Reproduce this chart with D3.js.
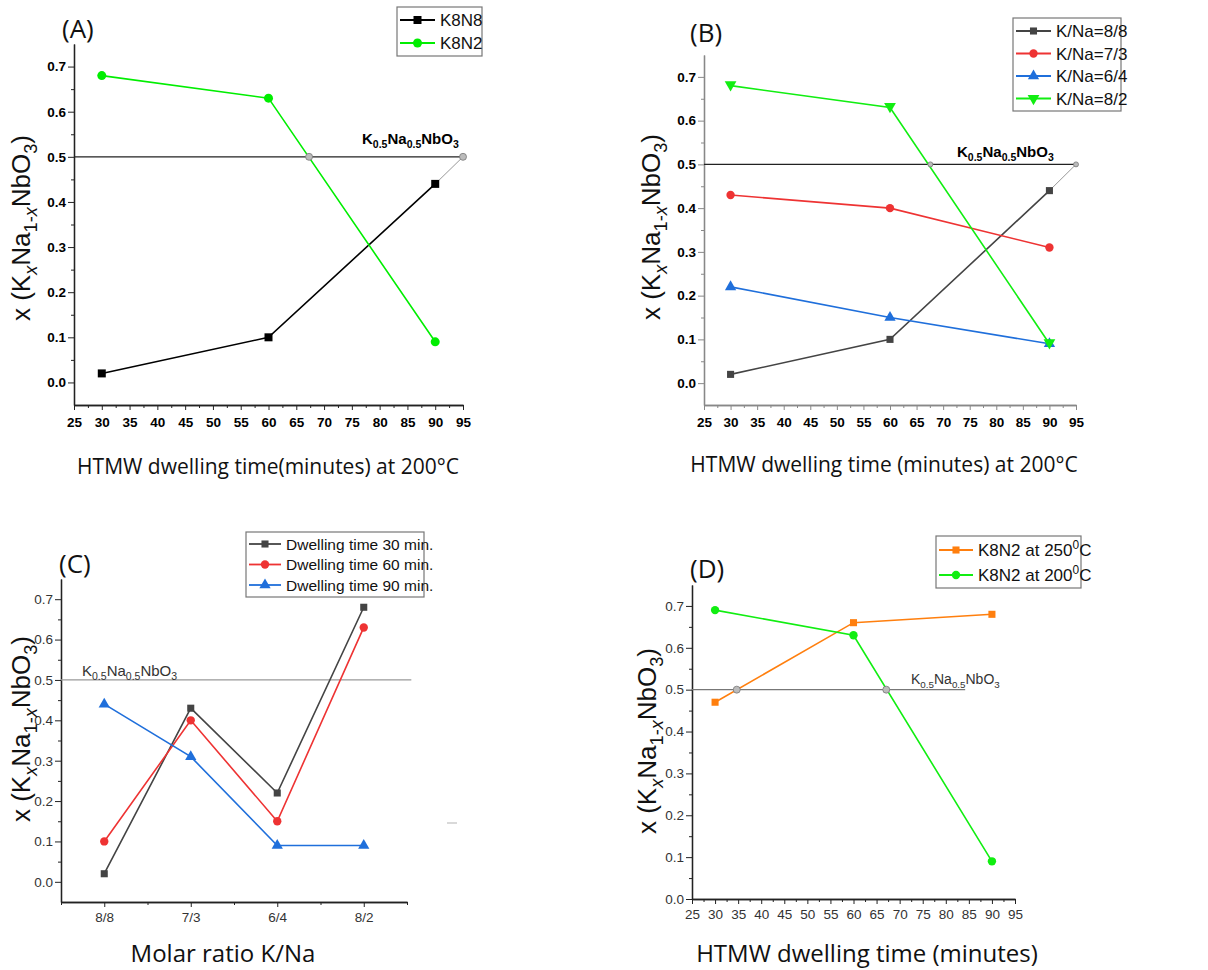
<!DOCTYPE html>
<html>
<head>
<meta charset="utf-8">
<script src="https://cdn.jsdelivr.net/npm/d3@7"></script>
<style>
  body { margin: 0; background: #fff; }
  svg { display: block; }
</style>
</head>
<body>
<div id="chart"></div>
<script>
// Data
const timesA = [30, 60, 90]
const k8n8A = [0.02, 0.10, 0.44]
const k8n2A = [0.68, 0.63, 0.09]

const timesB = [30, 60, 90]
const ratio88B = [0.02, 0.10, 0.44]
const ratio73B = [0.43, 0.40, 0.31]
const ratio64B = [0.22, 0.15, 0.09]
const ratio82B = [0.68, 0.63, 0.09]

const ratiosC = ['8/8', '7/3', '6/4', '8/2']
const dwell30C = [0.02, 0.43, 0.22, 0.68]
const dwell60C = [0.10, 0.40, 0.15, 0.63]
const dwell90C = [0.44, 0.31, 0.09, 0.09]

const timesD = [30, 60, 90]
const k8n2at250D = [0.47, 0.66, 0.68]
const k8n2at200D = [0.69, 0.63, 0.09]

// where the 0.5 line is crossed (x values)
const crossA = [67.3, 95]
const crossB = [67.6, 95]
const crossD = [34.7, 67.1]

const timeTicks = [25, 30, 35, 40, 45, 50, 55, 60, 65, 70, 75, 80, 85, 90, 95]
const yTicks = [0.0, 0.1, 0.2, 0.3, 0.4, 0.5, 0.6, 0.7]

const svg = d3.select('#chart')
  .append('svg')
  .attr('width', 1208)
  .attr('height', 970)

const sym = {
  square: d3.symbol().type(d3.symbolSquare),
  circle: d3.symbol().type(d3.symbolCircle),
  tri: d3.symbol().type(d3.symbolTriangle)
}

// text with sub / italic parts
function rich(sel, parts, size) {
  let shift = 0
  parts.forEach(p => {
    const ts = sel.append('tspan').text(p.t)
    const want = p.sub ? size * 0.28 : p.sup ? -size * 0.4 : 0
    ts.attr('dy', want - shift)
    shift = want
    if (p.sub || p.sup) ts.attr('font-size', size * 0.7)
    if (p.it) ts.attr('font-style', 'italic')
  })
  return sel
}

const kLabel = [{t: 'K'}, {t: '0.5', sub: true}, {t: 'Na'}, {t: '0.5', sub: true}, {t: 'NbO'}, {t: '3', sub: true}]
const yTitle = [{t: 'x (K'}, {t: 'x', sub: true, it: true}, {t: 'Na'}, {t: '1-', sub: true}, {t: 'x', sub: true, it: true}, {t: 'NbO'}, {t: '3', sub: true}, {t: ')'}]

function panel(o) {
  const g = svg.append('g')
  const xScale = d3.scaleLinear().domain(o.xDomain).range([o.left, o.right])
  const yScale = d3.scaleLinear().domain(o.yDomain).range([o.bottom, o.top])

  // axes
  const yAx = g.append('g').attr('transform', `translate(${o.left},0)`)
    .call(d3.axisLeft(yScale).tickValues(yTicks).tickFormat(d3.format('.1f')).tickSize(6).tickSizeOuter(0))
  g.append('g').attr('transform', `translate(${o.left},0)`)
    .call(d3.axisLeft(yScale).tickValues(d3.range(0.05, 0.75, 0.1)).tickFormat('').tickSize(3).tickSizeOuter(0))
  const xAx = g.append('g').attr('transform', `translate(0,${o.bottom})`)
    .call(d3.axisBottom(xScale).tickValues(o.xTicks).tickFormat(o.xFormat || d3.format('d')).tickSize(5).tickSizeOuter(0))
  g.append('g').attr('transform', `translate(0,${o.bottom})`)
    .call(d3.axisBottom(xScale).tickValues(o.xMinor).tickFormat('').tickSize(3).tickSizeOuter(0))
  g.selectAll('.domain, .tick line').attr('stroke', o.axisColor)
  g.selectAll('.domain').attr('stroke-width', 1.3)
  g.selectAll('.tick text')
    .attr('font-family', 'Liberation Sans, Arial, sans-serif')
    .attr('font-size', o.tickSize)
    .attr('font-weight', o.bold ? 'bold' : 'normal')
    .attr('fill', o.bold ? '#000' : '#333')
  yAx.selectAll('.tick text').attr('x', -8)
  xAx.selectAll('.tick text').attr('y', o.xLabelDy)

  // reference line at 0.5
  g.append('line')
    .attr('x1', xScale(o.refFrom)).attr('x2', xScale(o.refTo))
    .attr('y1', yScale(0.5)).attr('y2', yScale(0.5))
    .attr('stroke', o.refColor).attr('stroke-width', 1.2)
  rich(g.append('text')
    .attr('x', o.refLabel[0]).attr('y', o.refLabel[1])
    .attr('font-family', 'Liberation Sans, Arial, sans-serif')
    .attr('font-weight', o.refBold ? 'bold' : 'normal')
    .attr('font-size', o.refSize)
    .attr('fill', o.refBold ? '#000' : '#333'), kLabel, o.refSize)

  if (o.connector) {
    g.append('line')
      .attr('x1', xScale(o.connector[0][0])).attr('y1', yScale(o.connector[0][1]))
      .attr('x2', xScale(o.connector[1][0])).attr('y2', yScale(o.connector[1][1]))
      .attr('stroke', '#999').attr('stroke-width', 1)
  }

  // series
  const line = d3.line().x(d => xScale(d[0])).y(d => yScale(d[1]))
  o.series.forEach(s => {
    const pts = o.xs.map((x, i) => [x, s.values[i]])
    g.append('path').datum(pts)
      .attr('d', line).attr('fill', 'none')
      .attr('stroke', s.color).attr('stroke-width', 1.6)
    g.selectAll(null).data(pts).join('path')
      .attr('d', sym[s.shape].size(s.size)())
      .attr('transform', d => `translate(${xScale(d[0])},${yScale(d[1]) + (s.down ? -1 : 0)})${s.down ? ' rotate(180)' : ''}`)
      .attr('fill', s.color)
  })

  // crossing markers
  g.selectAll(null).data(o.cross).join('circle')
    .attr('cx', d => xScale(d)).attr('cy', yScale(0.5))
    .attr('r', o.crossR)
    .attr('fill', '#bbb').attr('stroke', '#777').attr('stroke-width', 0.8)

  // legend
  const L = o.legend
  g.append('rect')
    .attr('x', L.x).attr('y', L.y).attr('width', L.w).attr('height', L.h)
    .attr('fill', '#fff').attr('stroke', '#777').attr('stroke-width', 1.2)
  o.series.forEach((s, i) => {
    const yy = L.y + L.first + i * L.step
    g.append('line')
      .attr('x1', L.x + 3).attr('x2', L.x + 3 + L.lineW)
      .attr('y1', yy).attr('y2', yy)
      .attr('stroke', s.color).attr('stroke-width', 1.8)
    g.append('path')
      .attr('d', sym[s.shape].size(s.size)())
      .attr('transform', `translate(${L.x + 3 + L.lineW / 2},${yy})${s.down ? ' rotate(180)' : ''}`)
      .attr('fill', s.color)
    const t = g.append('text')
      .attr('x', L.x + 8 + L.lineW).attr('y', yy + L.size * 0.36)
      .attr('font-family', 'Liberation Sans, Arial, sans-serif')
      .attr('font-size', L.size).attr('fill', '#111')
    rich(t, s.label, L.size)
  })

  // panel letter
  g.append('text')
    .attr('x', o.letter[0]).attr('y', o.letter[1])
    .attr('font-family', 'Open Sans, sans-serif')
    .attr('font-size', 26).attr('fill', '#111')
    .text(o.letterText)

  // axis titles
  g.append('text')
    .attr('x', o.xTitle[0]).attr('y', o.xTitle[1])
    .attr('text-anchor', 'middle')
    .attr('font-family', 'Open Sans, sans-serif')
    .attr('font-size', o.xTitleSize).attr('fill', '#111')
    .text(o.xTitleText)
  rich(g.append('text')
    .attr('transform', `translate(${o.yTitle[0]},${o.yTitle[1]}) rotate(-90)`)
    .attr('text-anchor', 'middle')
    .attr('font-family', 'Liberation Sans, Arial, sans-serif')
    .attr('font-size', 26).attr('fill', '#111'), yTitle, 26)
}

const minorTime = d3.range(27.5, 95, 5)

// (A)
panel({
  left: 74, right: 463, top: 44, bottom: 405,
  xDomain: [25, 95], yDomain: [-0.05, 0.75],
  xTicks: timeTicks, xMinor: minorTime, xLabelDy: 12,
  bold: true, tickSize: 13.5, axisColor: '#222',
  refFrom: 25, refTo: 95, refColor: '#222', refLabel: [362, 144], refBold: true, refSize: 15,
  connector: [[90, 0.44], [95, 0.5]], cross: crossA, crossR: 3.5,
  xs: timesA,
  series: [
    {values: k8n8A, color: '#000', shape: 'square', size: 64, label: [{t: 'K8N8'}]},
    {values: k8n2A, color: '#00ee00', shape: 'circle', size: 64, label: [{t: 'K8N2'}]}
  ],
  legend: {x: 397, y: 7, w: 85, h: 49, first: 13, step: 23, lineW: 35, size: 17},
  letter: [62, 38], letterText: '(A)',
  xTitle: [268, 474], xTitleText: 'HTMW dwelling time(minutes) at 200°C', xTitleSize: 21,
  yTitle: [30, 228]
})

// (B)
panel({
  left: 704, right: 1076, top: 55, bottom: 405,
  xDomain: [25, 95], yDomain: [-0.05, 0.75],
  xTicks: timeTicks, xMinor: minorTime, xLabelDy: 12,
  bold: true, tickSize: 13.5, axisColor: '#888',
  refFrom: 25, refTo: 95, refColor: '#222', refLabel: [957, 157], refBold: true, refSize: 15,
  connector: [[90, 0.44], [95, 0.5]], cross: crossB, crossR: 2.5,
  xs: timesB,
  series: [
    {values: ratio88B, color: '#444', shape: 'square', size: 50, label: [{t: 'K/Na=8/8'}]},
    {values: ratio73B, color: '#ee3333', shape: 'circle', size: 55, label: [{t: 'K/Na=7/3'}]},
    {values: ratio64B, color: '#1f6fdb', shape: 'tri', size: 55, label: [{t: 'K/Na=6/4'}]},
    {values: ratio82B, color: '#11ee11', shape: 'tri', size: 60, down: true, label: [{t: 'K/Na=8/2'}]}
  ],
  legend: {x: 1013, y: 18, w: 108, h: 93, first: 13, step: 22.5, lineW: 35, size: 17},
  letter: [690, 42], letterText: '(B)',
  xTitle: [884, 472], xTitleText: 'HTMW dwelling time (minutes) at 200°C', xTitleSize: 21,
  yTitle: [660, 227]
})

// (C)
panel({
  left: 61, right: 407, top: 579, bottom: 902,
  xDomain: [-0.5, 3.5], yDomain: [-0.05, 0.75],
  xTicks: [0, 1, 2, 3], xMinor: [-0.5, 0.5, 1.5, 2.5, 3.5], xLabelDy: 10,
  xFormat: i => ratiosC[i],
  bold: false, tickSize: 13.5, axisColor: '#222',
  refFrom: -0.5, refTo: 3.55, refColor: '#999', refLabel: [82, 676], refBold: false, refSize: 15,
  cross: [], crossR: 0,
  xs: [0, 1, 2, 3],
  series: [
    {values: dwell30C, color: '#444', shape: 'square', size: 50, label: [{t: 'Dwelling time 30 min.'}]},
    {values: dwell60C, color: '#ee3333', shape: 'circle', size: 55, label: [{t: 'Dwelling time 60 min.'}]},
    {values: dwell90C, color: '#1f6fdb', shape: 'tri', size: 55, label: [{t: 'Dwelling time 90 min.'}]}
  ],
  legend: {x: 246, y: 532, w: 178, h: 65, first: 12, step: 20.5, lineW: 32, size: 15.5},
  letter: [59, 573], letterText: '(C)',
  xTitle: [223, 962], xTitleText: 'Molar ratio K/Na', xTitleSize: 24,
  yTitle: [30, 729]
})
svg.append('line').attr('x1', 447).attr('x2', 457).attr('y1', 823).attr('y2', 823)
  .attr('stroke', '#ccc').attr('stroke-width', 1.5)

// (D)
panel({
  left: 692, right: 1015, top: 585, bottom: 899,
  xDomain: [25, 95], yDomain: [0, 0.75],
  xTicks: timeTicks, xMinor: minorTime, xLabelDy: 10,
  bold: false, tickSize: 13.5, axisColor: '#222',
  refFrom: 25, refTo: 84.2, refColor: '#777', refLabel: [911, 684], refBold: false, refSize: 14,
  cross: crossD, crossR: 3.5,
  xs: timesD,
  series: [
    {values: k8n2at250D, color: '#ff7f0e', shape: 'square', size: 50, label: [{t: 'K8N2 at 250'}, {t: '0', sup: true}, {t: 'C'}]},
    {values: k8n2at200D, color: '#11ee11', shape: 'circle', size: 55, label: [{t: 'K8N2 at 200'}, {t: '0', sup: true}, {t: 'C'}]}
  ],
  legend: {x: 936, y: 536, w: 145, h: 52, first: 14, step: 25, lineW: 34, size: 17},
  letter: [690, 578], letterText: '(D)',
  xTitle: [867, 962], xTitleText: 'HTMW dwelling time (minutes)', xTitleSize: 24,
  yTitle: [656, 741]
})
</script>
</body>
</html>
